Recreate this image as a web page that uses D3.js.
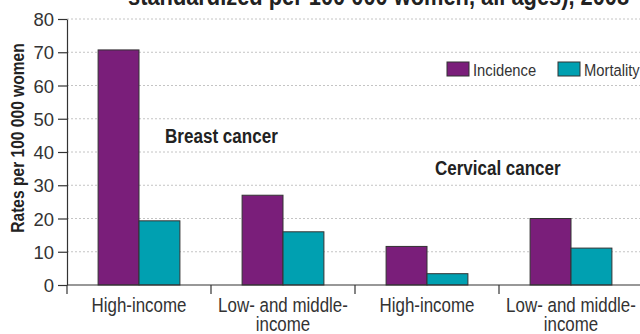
<!DOCTYPE html>
<html>
<head>
<meta charset="utf-8">
<script src="https://cdn.jsdelivr.net/npm/d3@7"></script>
<style>
  html, body { margin: 0; padding: 0; background: #fff; }
  svg { display: block; }
  text { font-family: "Liberation Sans", Arial, sans-serif; }
</style>
</head>
<body>
<svg id="chart" width="640" height="334"></svg>
<script>
// Income groups along the x axis (two per cancer type)
const categories = ["High-income", "Low- and middle-income", "High-income", "Low- and middle-income"];
const categoryLines = [["High-income"], ["Low- and middle-", "income"], ["High-income"], ["Low- and middle-", "income"]];
const series = ["Incidence", "Mortality"];
const incidence = [70.7, 27.0, 11.6, 20.0];
const mortality = [19.3, 16.0, 3.4, 11.1];
const yTicks = [0, 10, 20, 30, 40, 50, 60, 70, 80];
const groupLabels = ["Breast cancer", "Cervical cancer"];
const titleLine = "standardized per 100 000 women, all ages), 2008";
const yTitle = "Rates per 100 000 women";

const colors = { Incidence: "#7a1e7a", Mortality: "#00a0b1" };
const rows = categories.map((c, i) => ({ i, Incidence: incidence[i], Mortality: mortality[i] }));

// Horizontal squeeze factors giving a condensed look to the text
const narrow = 0.868, narrowBold = 0.84;

const svg = d3.select("#chart");
const plotLeft = 67, plotBottom = 285, plotTop = 19;

const x0 = d3.scaleBand().domain(d3.range(categories.length)).range([plotLeft, plotLeft + 576]).paddingInner(0).paddingOuter(0);
const x1 = d3.scaleBand().domain(series).range([0, x0.bandwidth()]).paddingInner(0).paddingOuter(0.76);
const y = d3.scaleLinear().domain([0, 80]).range([plotBottom, plotTop]);

// Places a text block at (x, y) squeezed horizontally by sx
function squeezedText(parent, x, yPos, sx) {
  return parent.append("g")
    .attr("transform", `translate(${x},${yPos}) scale(${sx},1)`)
    .append("text");
}

// Title (second line, partly above the visible area)
squeezedText(svg, 128, 4.5, narrowBold)
  .attr("font-size", 26).attr("font-weight", "bold").attr("fill", "#222")
  .text(titleLine);

// Dashed gridlines
svg.append("g").selectAll("line")
  .data(yTicks.filter(t => t > 0))
  .join("line")
  .attr("x1", plotLeft).attr("x2", 640)
  .attr("y1", d => y(d)).attr("y2", d => y(d))
  .attr("stroke", "#c4c4c4").attr("stroke-width", 1)
  .attr("stroke-dasharray", "2,2");

// Bars
const groups = svg.append("g").selectAll("g")
  .data(rows).join("g")
  .attr("transform", d => `translate(${x0(d.i)},0)`);
groups.selectAll("rect")
  .data(d => series.map(s => ({ s, v: d[s] })))
  .join("rect")
  .attr("x", d => x1(d.s))
  .attr("width", x1.bandwidth())
  .attr("y", d => y(d.v))
  .attr("height", d => y(0) - y(d.v))
  .attr("fill", d => colors[d.s])
  .attr("stroke", "#333").attr("stroke-width", 1);

// Y axis
const yAxis = svg.append("g")
  .attr("transform", `translate(${plotLeft},0)`)
  .call(d3.axisLeft(y).tickValues(yTicks).tickSize(9).tickPadding(4).tickSizeOuter(0));
yAxis.select(".domain").attr("stroke", "#333").attr("stroke-width", 1.2);
yAxis.selectAll(".tick line").attr("stroke", "#333").attr("stroke-width", 1.2);
yAxis.selectAll(".tick text")
  .attr("font-size", 18.5).attr("fill", "#333")
  .attr("dy", "0.36em")
  .style("font-family", '"Liberation Sans", Arial, sans-serif');

// X axis: baseline and group boundary ticks
svg.append("line")
  .attr("x1", plotLeft).attr("x2", 640).attr("y1", plotBottom).attr("y2", plotBottom)
  .attr("stroke", "#333").attr("stroke-width", 1.2);
svg.append("g").selectAll("line")
  .data(d3.range(categories.length))
  .join("line")
  .attr("x1", d => x0(d)).attr("x2", d => x0(d))
  .attr("y1", plotBottom).attr("y2", plotBottom + 9)
  .attr("stroke", "#333").attr("stroke-width", 1.2);

// Category labels
d3.range(categories.length).forEach(i => {
  const t = squeezedText(svg, x0(i) + x0.bandwidth() / 2, 312, narrow)
    .attr("text-anchor", "middle")
    .attr("font-size", 19.5).attr("fill", "#333");
  t.selectAll("tspan")
    .data(categoryLines[i])
    .join("tspan")
    .attr("x", 0)
    .attr("dy", (d, k) => k === 0 ? 0 : 19)
    .text(d => d);
});

// Cancer-type labels
squeezedText(svg, 165, 142.5, 0.875)
  .attr("font-size", 19.5).attr("font-weight", "bold").attr("fill", "#222")
  .text(groupLabels[0]);
squeezedText(svg, 435, 175, 0.85)
  .attr("font-size", 20).attr("font-weight", "bold").attr("fill", "#222")
  .text(groupLabels[1]);

// Y axis title
svg.append("g")
  .attr("transform", "translate(23.5,138) rotate(-90) scale(0.82,1)")
  .append("text")
  .attr("text-anchor", "middle")
  .attr("font-size", 19).attr("font-weight", "bold").attr("fill", "#222")
  .text(yTitle);

// Legend
const legendX = [447, 558];
const legend = svg.append("g").selectAll("g")
  .data(series).join("g")
  .attr("transform", (d, i) => `translate(${legendX[i]},62)`);
legend.append("rect")
  .attr("width", 22).attr("height", 14)
  .attr("fill", d => colors[d]).attr("stroke", "#333").attr("stroke-width", 1);
legend.append("g")
  .attr("transform", `translate(26,13.5) scale(${narrow},1)`)
  .append("text")
  .attr("font-size", 17).attr("fill", "#333")
  .text(d => d);
</script>
</body>
</html>
